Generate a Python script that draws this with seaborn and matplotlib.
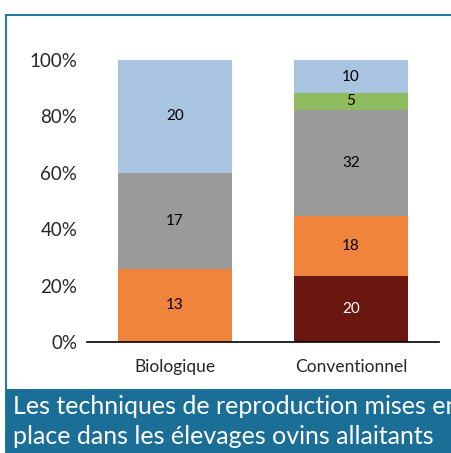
import numpy as np
import pandas as pd
import matplotlib
matplotlib.use("Agg")
import matplotlib.pyplot as plt
from matplotlib.patches import Rectangle
from matplotlib.ticker import PercentFormatter
import seaborn as sns

# Données (nombre d'élevages par technique)
systemes = ["Biologique", "Conventionnel"]
techniques = ["Technique 5", "Technique 4", "Technique 3", "Technique 2", "Technique 1"]
biologique = [20, 0, 17, 13, 0]
conventionnel = [10, 5, 32, 18, 20]
couleurs = ["#a9c4e0", "#8dbb5e", "#999b9b", "#f0843c", "#6a1710"]
titre = "Les techniques de reproduction mises en\nplace dans les élevages ovins allaitants"

rows = []
for sys_name, vals in zip(systemes, [biologique, conventionnel]):
    for tech, v in zip(techniques, vals):
        rows.append({"systeme": sys_name, "technique": tech, "n": v})
df = pd.DataFrame(rows)

sns.set_style("white")
plt.rcParams["font.family"] = ["Lato", "DejaVu Sans"]

fig = plt.figure(figsize=(4.51, 4.53), dpi=100)
ax = fig.add_axes([87 / 451, 111 / 453, 352 / 451, 282 / 453])

sns.histplot(data=df, x="systeme", hue="technique", weights="n",
             hue_order=techniques, palette=couleurs, multiple="fill",
             discrete=True, shrink=0.645, alpha=1, linewidth=0,
             legend=False, ax=ax)

# étiquettes des segments
for i, vals in enumerate([biologique, conventionnel]):
    total = sum(vals)
    base = 0
    for tech, v, c in reversed(list(zip(techniques, vals, couleurs))):
        if v > 0:
            coul = "white" if c == "#6a1710" else "black"
            ax.text(i, (base + v / 2) / total, str(v), ha="center", va="center",
                    fontsize=11, color=coul)
            base += v

ax.set_xlim(-0.5, 1.5)
ax.set_ylim(0, 1)
ax.yaxis.set_major_formatter(PercentFormatter(1.0, decimals=0))
ax.set_yticks(np.arange(0, 1.01, 0.2))
ax.tick_params(axis="y", labelsize=13.5, length=0, pad=7)
ax.tick_params(axis="x", labelsize=12.5, length=0, pad=12)
ax.set_xlabel("")
ax.set_ylabel("")
for s in ["top", "right", "left"]:
    ax.spines[s].set_visible(False)
ax.spines["bottom"].set_color("black")
ax.spines["bottom"].set_linewidth(1.2)

# cadre et bandeau
fig.patches.append(Rectangle((6 / 451, -0.5), 2, 0.5 + (453 - 15) / 453, transform=fig.transFigure,
                             fill=False, edgecolor="#2a7aa8", linewidth=1.5, zorder=0))
fig.patches.append(Rectangle((6 / 451, 0), 1, (453 - 389) / 453, transform=fig.transFigure,
                             facecolor="#1b6e96", edgecolor="none", zorder=1))
fig.text(13 / 451, (453 - 395) / 453, titre, color="white", fontsize=18,
         ha="left", va="top", linespacing=1.38)

fig.savefig("out.png", dpi=100)
